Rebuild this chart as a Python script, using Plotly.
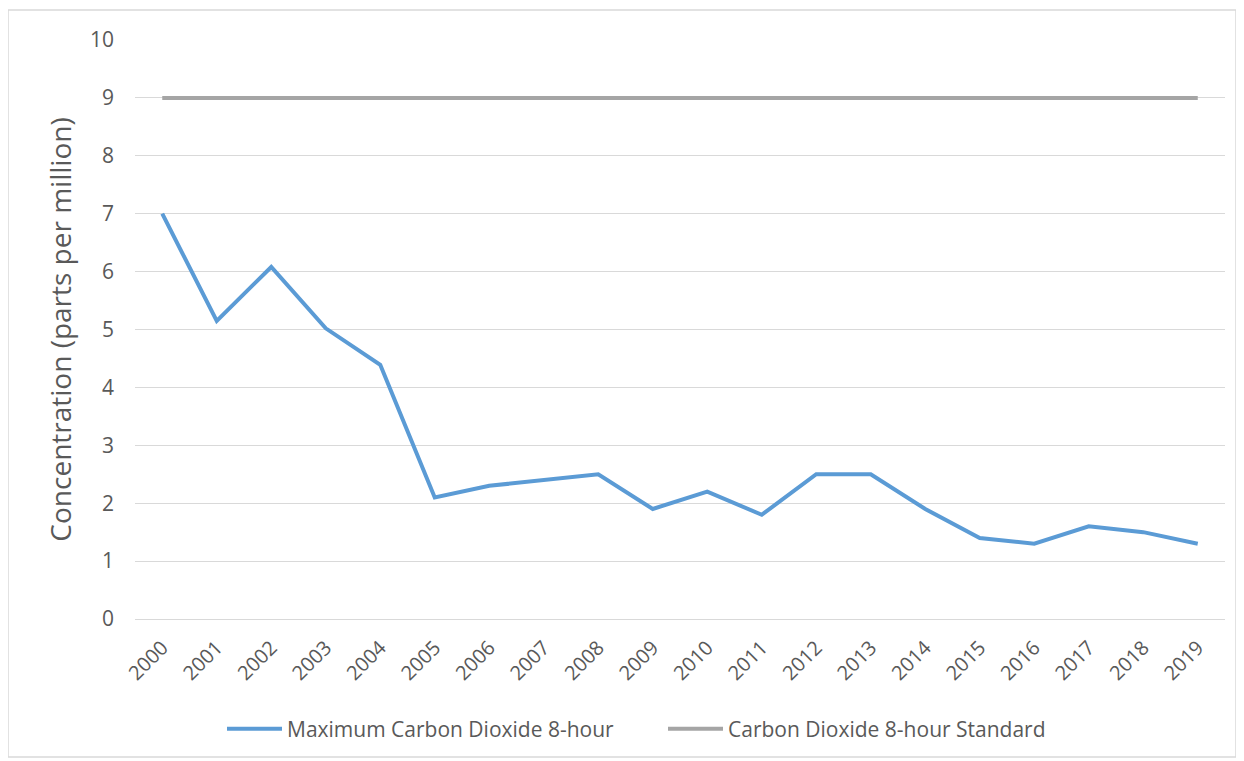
import plotly.graph_objects as go

years = [str(y) for y in range(2000, 2020)]
max_co = [7.0, 5.15, 6.08, 5.02, 4.39, 2.1, 2.3, 2.4, 2.5, 1.9, 2.2, 1.8, 2.5, 2.5, 1.9, 1.4, 1.3, 1.6, 1.5, 1.3]
standard = [9] * 20
y_ticks = list(range(0, 11))

OFF = 8  # browser body margin
W, H = 1244 - OFF, 761 - OFF
ml, mr, mt, mb = 135 - OFF, 19, 40 - OFF, 142

fig = go.Figure()
fig.add_trace(go.Scatter(x=years, y=max_co, mode="lines", name="Maximum Carbon Dioxide 8-hour",
                         line=dict(color="#5B9BD5", width=4)))
fig.add_trace(go.Scatter(x=years, y=standard, mode="lines", name="Carbon Dioxide 8-hour Standard",
                         line=dict(color="#A5A5A5", width=4)))

pw = W - ml - mr
ph = H - mt - mb
plot_left_page = ml + OFF
plot_bottom_page = H - mb + OFF
def px(x): return (x - plot_left_page) / pw
def py(y): return (plot_bottom_page - y) / ph

fig.update_layout(
    width=W, height=H,
    margin=dict(l=ml, r=mr, t=mt, b=mb),
    paper_bgcolor="white", plot_bgcolor="white",
    font=dict(family="Open Sans, Liberation Sans, sans-serif", color="#595959"),
    xaxis=dict(type="category", range=[-0.5, 19.5], tickangle=-45, showgrid=False,
               showline=True, linecolor="#D9D9D9", linewidth=1, ticks="", ticklabelstandoff=8,
               tickfont=dict(size=20, color="#595959")),
    yaxis=dict(range=[0, 10], tickvals=y_ticks, showgrid=True, gridcolor="#D9D9D9",
               zeroline=False, showline=False, ticks="", ticklabelstandoff=20,
               tickfont=dict(size=21, color="#595959"),
               title=dict(text="Concentration (parts per million)", font=dict(size=28, color="#595959"), standoff=10)),
    legend=dict(orientation="h", x=px(222), xanchor="left", y=py(729), yanchor="middle",
                font=dict(size=21, color="#595959"), itemwidth=55, entrywidth=371, entrywidthmode="pixels"),
    showlegend=True,
    shapes=[dict(type="rect", xref="paper", yref="paper",
                 x0=px(8), x1=px(1236), y0=py(757), y1=py(10),
                 line=dict(color="#D9D9D9", width=1.5), fillcolor="rgba(0,0,0,0)", layer="below")],
)

fig.write_html("out.html")
